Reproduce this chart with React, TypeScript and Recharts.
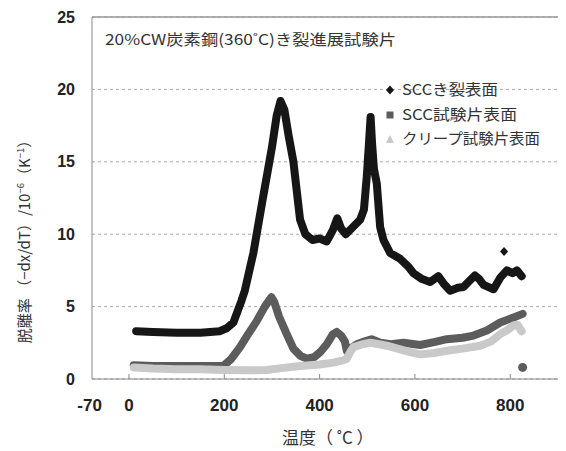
import React from "react";
import { ComposedChart, Line, Scatter, XAxis, YAxis, CartesianGrid, ReferenceLine } from "recharts";

// temperature (°C), desorption rate (10^-6 K^-1)
const sccCrackSurface = [
  [15, 3.3], [50, 3.25], [100, 3.2], [150, 3.2], [190, 3.3], [205, 3.5], [219, 3.9], [236, 5.4],
  [243, 6.1], [261, 8.7], [280, 12.3], [300, 16.0], [310, 18.2], [318, 19.2], [326, 18.6],
  [335, 16.8], [345, 15.0], [359, 11.0], [370, 10.0], [385, 9.6], [400, 9.7], [415, 9.5],
  [428, 10.3], [437, 11.1], [445, 10.4], [455, 10.0], [470, 10.5], [485, 11.0], [493, 11.7],
  [499, 14.0], [503, 16.0], [507, 18.1], [510, 16.3], [514, 14.5], [520, 13.5], [527, 10.5],
  [534, 9.6], [548, 8.7], [569, 8.3], [585, 7.8], [597, 7.3], [615, 6.9], [632, 6.7], [649, 7.1],
  [660, 6.6], [674, 6.1], [690, 6.3], [702, 6.35], [715, 6.8], [726, 7.15], [735, 6.9], [744, 6.5],
  [765, 6.2], [779, 7.0], [793, 7.5], [805, 7.3], [814, 7.5], [824, 7.1],
].map(([t, v]) => ({ t, v }));
const sccCrackOutlier = [{ t: 787, v: 8.8 }];

const sccSpecimenSurface = [
  [10, 0.95], [50, 0.9], [100, 0.9], [150, 0.9], [198, 0.9], [215, 1.4], [233, 2.2], [250, 3.1],
  [268, 4.0], [285, 5.0], [299, 5.65], [305, 5.3], [315, 4.3], [331, 3.1], [345, 2.1], [360, 1.6],
  [373, 1.4], [388, 1.5], [401, 1.85], [415, 2.4], [428, 3.1], [436, 3.25], [445, 3.0], [453, 2.6],
  [457, 1.95], [478, 2.4], [495, 2.6], [509, 2.75], [527, 2.5], [550, 2.4], [576, 2.5], [611, 2.35],
  [640, 2.55], [667, 2.75], [700, 2.85], [723, 3.0], [751, 3.35], [779, 3.9], [795, 4.1],
  [807, 4.25], [826, 4.5],
].map(([t, v]) => ({ t, v }));
const sccSpecimenOutlier = [{ t: 826, v: 0.8 }];

const creepSpecimenSurface = [
  [10, 0.8], [50, 0.72], [100, 0.68], [149, 0.67], [200, 0.62], [250, 0.6], [289, 0.62],
  [320, 0.75], [359, 0.9], [400, 1.0], [429, 1.13], [450, 1.3], [457, 1.4], [465, 1.9], [471, 2.2],
  [490, 2.4], [506, 2.5], [525, 2.4], [541, 2.3], [569, 2.05], [590, 1.85], [611, 1.7], [640, 1.8],
  [667, 1.95], [700, 2.1], [737, 2.3], [760, 2.6], [779, 3.1], [795, 3.4], [807, 3.7], [815, 3.75],
  [824, 3.3],
].map(([t, v]) => ({ t, v }));

const xTicks = [-70, 0, 200, 400, 600, 800];
const yTicks = [0, 5, 10, 15, 20, 25];
const seriesNames = ["SCCき裂表面", "SCC試験片表面", "クリープ試験片表面"];
const chartTitle = "20%CW炭素鋼(360˚C)き裂進展試験片";

const BLACK = "#161616";
const DARK = "#5c5c5c";
const LIGHT = "#c9c9c9";
const JP = "'Noto Sans CJK JP', 'Noto Sans', sans-serif";
const NUM = "'Liberation Sans', Arial, sans-serif";

const XTick = (props: any) => {
  const { x, y, payload } = props;
  const v = payload.value;
  const lx = v === -70 ? x - 6 : x;
  return (
    <g>
      {v !== -70 && <line x1={x} x2={x} y1={y} y2={y - 5} stroke="#888" strokeWidth={1} />}
      <text x={lx} y={y + 32} textAnchor="middle" fontFamily={NUM} fontWeight="bold" fontSize={17} fill="#222">
        {v}
      </text>
    </g>
  );
};

const Diamond = (props: any) => {
  const { cx, cy } = props;
  return <path d={`M${cx},${cy - 4.5}L${cx + 4},${cy}L${cx},${cy + 4.5}L${cx - 4},${cy}Z`} fill={BLACK} />;
};
const Dot = (props: any) => {
  const { cx, cy } = props;
  return <circle cx={cx} cy={cy} r={4.5} fill={DARK} />;
};

export default function App() {
  return (
    <div style={{ position: "relative", width: 558, height: 443 }}>
      <ComposedChart width={558} height={443} margin={{ top: 9, right: 0, bottom: 0, left: 0 }}>
        <CartesianGrid vertical={false} stroke="#aaa" strokeDasharray="3 3" />
        <XAxis
          type="number"
          dataKey="t"
          domain={[-77.6, 917]}
          allowDataOverflow
          ticks={xTicks}
          interval={0}
          height={72}
          tickSize={0}
          tickMargin={0}
          tickLine={false}
          axisLine={{ stroke: "#888" }}
          tick={<XTick />}
        />
        <YAxis
          type="number"
          domain={[0, 25]}
          ticks={yTicks}
          interval={0}
          width={84}
          tickSize={0}
          tickMargin={17}
          tickLine={false}
          axisLine={{ stroke: "#888" }}
          tick={{ fontFamily: NUM, fontWeight: "bold", fontSize: 16, fill: "#222" }}
        />
        <ReferenceLine y={25} stroke="#999" strokeWidth={1.5} />
        <Line data={sccCrackSurface} dataKey="v" type="linear" stroke={BLACK} strokeWidth={8}
          strokeLinejoin="round" strokeLinecap="round" dot={false} isAnimationActive={false} />
        <Line data={sccSpecimenSurface} dataKey="v" type="linear" stroke={DARK} strokeWidth={8}
          strokeLinejoin="round" strokeLinecap="round" dot={false} isAnimationActive={false} />
        <Line data={creepSpecimenSurface} dataKey="v" type="linear" stroke={LIGHT} strokeWidth={8}
          strokeLinejoin="round" strokeLinecap="round" dot={false} isAnimationActive={false} />
        <Scatter data={sccCrackOutlier} dataKey="v" shape={<Diamond />} isAnimationActive={false} />
        <Scatter data={sccSpecimenOutlier} dataKey="v" shape={<Dot />} isAnimationActive={false} />
      </ComposedChart>
      <svg width={558} height={443} style={{ position: "absolute", left: 0, top: 0, pointerEvents: "none" }}>
        <text x={97} y={37} fontFamily={JP} fontSize={15} fill="#333" textLength={291} lengthAdjust="spacingAndGlyphs">
          {chartTitle}
        </text>
        <g fontFamily={JP} fontSize={15} fill="#333">
          <path d="M382,77.5L386,82L382,86.5L378,82Z" fill={BLACK} />
          <text x={394} y={87} textLength={96} lengthAdjust="spacingAndGlyphs">{seriesNames[0]}</text>
          <rect x={378.5} y={103.5} width={7} height={7} fill={DARK} />
          <text x={394} y={112} textLength={115} lengthAdjust="spacingAndGlyphs">{seriesNames[1]}</text>
          <path d="M382,127L386,135L378,135Z" fill={LIGHT} />
          <text x={394} y={136} textLength={138} lengthAdjust="spacingAndGlyphs">{seriesNames[2]}</text>
        </g>
        <text x={274} y={436} fontFamily={JP} fontSize={17} fill="#333">温度（ ˚C ）</text>
        <text transform="translate(22,230) rotate(-90)" textAnchor="middle" fontFamily={JP} fontSize={15} fill="#333">
          脱離率 （−dx/dT）/10<tspan fontSize={9.5} dy={-6}>−6</tspan><tspan dy={6}>（K</tspan><tspan fontSize={9.5} dy={-6}>−1</tspan><tspan dy={6}>）</tspan>
        </text>
      </svg>
    </div>
  );
}
